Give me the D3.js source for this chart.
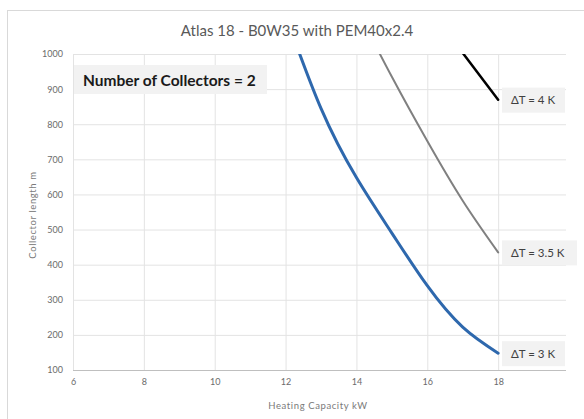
<!DOCTYPE html>
<html><head><meta charset="utf-8">
<script src="https://cdn.jsdelivr.net/npm/d3@7"></script>
<style>
html,body{margin:0;padding:0;background:#fff;}
svg{display:block;font-family:Lato,"Open Sans",sans-serif;}
</style></head>
<body><svg id="c" width="584" height="419"></svg>
<script>
// Data
const xTicks = [6, 8, 10, 12, 14, 16, 18];
const yTicks = [100, 200, 300, 400, 500, 600, 700, 800, 900, 1000];
const blueX = [12, 13, 14, 15, 16, 17, 18];
const blueY = [1110, 845, 648, 490, 340, 222, 148];
const greyX = [14, 15, 16, 17, 18];
const greyY = [1130, 935, 752, 582, 435];
const blackX = [16.5, 17, 18];
const blackY = [1068, 1003, 870];
const seriesLabels = ["ΔT = 3 K", "ΔT = 3.5 K", "ΔT = 4 K"];
const title = "Atlas 18 - B0W35 with PEM40x2.4";
const note = "Number of Collectors = 2";

const svg = d3.select("#c");
const x = d3.scaleLinear().domain([6, 20]).range([73, 569]);
const y = d3.scaleLinear().domain([100, 1000]).range([370, 54]);

// chart border
svg.append("rect").attr("x", 7.5).attr("y", 10.5).attr("width", 600).attr("height", 440)
  .attr("fill", "#fff").attr("stroke", "#d9d9d9");

svg.append("defs").append("clipPath").attr("id", "pc")
  .append("rect").attr("x", x(6)).attr("y", y(1000)).attr("width", 566 - x(6)).attr("height", y(100) - y(1000));

// gridlines
const g = svg.append("g");
g.selectAll(".hg").data(yTicks).join("line")
  .attr("x1", x(6)).attr("x2", 566).attr("y1", d => y(d) + 0.5).attr("y2", d => y(d) + 0.5)
  .attr("stroke", d => d === 100 ? "#bfbfbf" : "#e3e3e3").attr("stroke-width", 1);
g.selectAll(".vg").data(xTicks).join("line")
  .attr("y1", y(1000)).attr("y2", y(100)).attr("x1", d => x(d) + 0.5).attr("x2", d => x(d) + 0.5)
  .attr("stroke", "#e3e3e3");

// axes labels
const yAxis = d3.axisLeft(y).tickValues(yTicks).tickFormat(d3.format("d")).tickSize(0).tickPadding(10);
svg.append("g").attr("transform", `translate(${x(6)},0)`).call(yAxis)
  .call(s => s.select(".domain").remove())
  .call(s => s.selectAll("text").attr("fill", "#6b6b6b").style("font-size", "9px").style("font-family", "Lato, sans-serif"));
const xAxis = d3.axisBottom(x).tickValues(xTicks).tickFormat(d3.format("d")).tickSize(0).tickPadding(9);
svg.append("g").attr("transform", `translate(0,${y(100)})`).call(xAxis)
  .call(s => s.select(".domain").remove())
  .call(s => s.selectAll("text").attr("fill", "#6b6b6b").style("font-size", "9px").style("font-family", "Lato, sans-serif"));

svg.append("text").attr("x", 318).attr("y", 409).attr("text-anchor", "middle")
  .attr("fill", "#7a7a7a").style("font-size", "9.5px").style("letter-spacing", "0.6px").text("Heating Capacity  kW");
svg.append("text").attr("transform", "translate(36,215) rotate(-90)").attr("text-anchor", "middle")
  .attr("fill", "#7a7a7a").style("font-size", "9.5px").style("letter-spacing", "0.6px").text("Collector length  m");

svg.append("text").attr("x", 297).attr("y", 36).attr("text-anchor", "middle")
  .attr("fill", "#595959").style("font-size", "15px").text(title);

// lines
const line = d3.line().x(d => x(d[0])).y(d => y(d[1])).curve(d3.curveNatural);
const lg = svg.append("g").attr("clip-path", "url(#pc)");
const series = [
  {xs: blueX, ys: blueY, color: "#2e68ad", w: 3},
  {xs: greyX, ys: greyY, color: "#808080", w: 2},
  {xs: blackX, ys: blackY, color: "#000000", w: 2.5}
];
series.forEach(s => {
  lg.append("path").datum(s.xs.map((v, i) => [v, s.ys[i]]))
    .attr("d", line).attr("fill", "none").attr("stroke", s.color)
    .attr("stroke-width", s.w).attr("stroke-linecap", "round");
});

// note box
svg.append("rect").attr("x", 74).attr("y", 65).attr("width", 193).attr("height", 29).attr("fill", "#f2f2f2");
svg.append("text").attr("x", 83).attr("y", 86).attr("fill", "#1a1a1a")
  .style("font-size", "15.5px").style("font-weight", "bold").text(note);

// series labels
const lastPts = series.map(s => [s.xs[s.xs.length - 1], s.ys[s.ys.length - 1]]);
const boxW = [63, 75, 63];
lastPts.forEach((p, i) => {
  const cy = y(p[1]);
  svg.append("rect").attr("x", 502).attr("y", cy - 12).attr("width", boxW[i]).attr("height", 25).attr("fill", "#f2f2f2");
  svg.append("text").attr("x", 511).attr("y", cy + 4.5).attr("fill", "#404040")
    .style("font-size", "11.5px").text(seriesLabels[i]);
});
</script></body></html>
